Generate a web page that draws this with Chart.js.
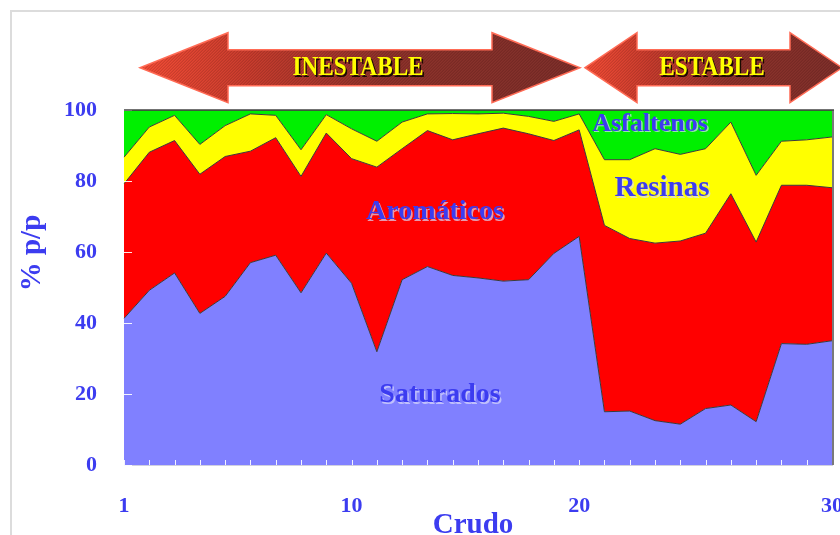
<!DOCTYPE html>
<html>
<head>
<meta charset="utf-8">
<script src="https://cdn.jsdelivr.net/npm/chart.js@4/dist/chart.umd.min.js"></script>
<style>
  html, body { margin: 0; padding: 0; background: #ffffff; }
  #wrap { width: 840px; height: 535px; position: relative; }
</style>
</head>
<body>
<div id="wrap"><canvas id="chart" width="840" height="535"></canvas></div>
<script>
// Composición SARA de 29 crudos (% p/p)
const crudeLabels = ['1', '', '', '', '', '', '', '', '', '10',
                     '', '', '', '', '', '', '', '', '20',
                     '', '', '', '', '', '', '', '', '', '30'];

const saturados  = [41.3, 49.2, 54.1, 42.7, 47.5, 57.0, 59.1, 48.5, 59.7, 51.2,
                    31.9, 52.2, 55.9, 53.4, 52.7, 51.8, 52.2, 59.6, 64.4,
                    15.0, 15.2, 12.5, 11.5, 15.9, 16.9, 12.2, 34.2, 34.0, 35.0];
const aromaticos = [37.9, 38.9, 37.3, 39.2, 39.4, 31.4, 33.1, 32.8, 33.8, 35.1,
                    52.0, 36.9, 38.3, 38.2, 40.6, 43.1, 41.1, 31.8, 30.0,
                    52.5, 48.6, 50.0, 51.6, 49.4, 59.5, 50.6, 44.6, 44.8, 43.1];
const resinas    = [7.5, 7.1, 7.1, 8.4, 8.7, 10.5, 6.3, 7.5, 5.2, 8.4,
                    7.3, 7.5, 4.7, 7.4, 5.6, 4.2, 4.9, 5.4, 4.5,
                    18.5, 22.2, 26.6, 24.4, 23.8, 20.2, 18.8, 12.4, 12.8, 14.3];
const asfaltenos = [13.3, 4.8, 1.5, 9.7, 4.4, 1.1, 1.5, 11.2, 1.3, 5.3,
                    8.8, 3.4, 1.1, 1.0, 1.1, 0.9, 1.8, 3.2, 1.1,
                    14.0, 14.0, 10.9, 12.5, 10.9, 3.4, 18.4, 8.8, 8.4, 7.6];

const yTicks = [0, 20, 40, 60, 80, 100];

const SERIF = '"Liberation Serif", "Times New Roman", serif';
const BLUE = '#3c3cf0';
const EDGE = '#3a3a3a';

// Double-headed arrow with striped red gradient
function drawArrow(ctx, x0, x1, head, cy, halfH, halfShaft, label, textX) {
  const top = cy - halfH, bot = cy + halfH;
  const st = cy - halfShaft, sb = cy + halfShaft;
  const p = new Path2D();
  p.moveTo(x0, cy);
  p.lineTo(x0 + head, top);
  p.lineTo(x0 + head, st);
  p.lineTo(x1 - head, st);
  p.lineTo(x1 - head, top);
  p.lineTo(x1, cy);
  p.lineTo(x1 - head, bot);
  p.lineTo(x1 - head, sb);
  p.lineTo(x0 + head, sb);
  p.lineTo(x0 + head, bot);
  p.closePath();
  ctx.save();
  const g = ctx.createLinearGradient(x0, 0, x1, 0);
  g.addColorStop(0, '#f54d36');
  g.addColorStop(0.25, '#c93d2e');
  g.addColorStop(0.55, '#8f332b');
  g.addColorStop(1, '#7e302b');
  ctx.fillStyle = g;
  ctx.fill(p);
  ctx.save();
  ctx.clip(p);
  ctx.strokeStyle = 'rgba(40,0,0,0.22)';
  ctx.lineWidth = 1;
  for (let x = x0 - 80; x < x1 + 80; x += 3) {
    ctx.beginPath();
    ctx.moveTo(x, bot);
    ctx.lineTo(x + (bot - top), top);
    ctx.stroke();
  }
  ctx.restore();
  ctx.strokeStyle = '#ff6b55';
  ctx.lineWidth = 1.5;
  ctx.stroke(p);
  // condensed bold caption with dark drop shadow
  ctx.translate(textX, cy);
  ctx.scale(0.86, 1);
  ctx.font = 'bold 27px ' + SERIF;
  ctx.textAlign = 'center';
  ctx.textBaseline = 'middle';
  ctx.fillStyle = '#1a0a00';
  ctx.fillText(label, 1.8, 2);
  ctx.fillStyle = '#ffff00';
  ctx.fillText(label, 0, 0);
  ctx.restore();
}

function shadowText(ctx, text, x, y, size) {
  ctx.save();
  ctx.font = 'bold ' + size + 'px ' + SERIF;
  ctx.textAlign = 'center';
  ctx.textBaseline = 'middle';
  ctx.fillStyle = 'rgba(220,220,250,0.7)';
  ctx.fillText(text, x + 1.5, y + 1.5);
  ctx.fillStyle = BLUE;
  ctx.fillText(text, x, y);
  ctx.restore();
}

const decor = {
  id: 'decor',
  beforeDraw(chart) {
    const ctx = chart.ctx;
    ctx.save();
    ctx.fillStyle = '#ffffff';
    ctx.fillRect(0, 0, chart.width, chart.height);
    ctx.strokeStyle = '#dcdcdc';
    ctx.lineWidth = 2;
    ctx.beginPath();
    ctx.moveTo(11, chart.height + 2);
    ctx.lineTo(11, 11);
    ctx.lineTo(chart.width + 2, 11);
    ctx.stroke();
    ctx.restore();
    drawArrow(ctx, 140, 580, 88, 67.7, 35, 18, 'INESTABLE', 358);
    drawArrow(ctx, 585, 842, 52, 67.7, 35, 18, 'ESTABLE', 712);
  },
  afterDatasetsDraw(chart) {
    const ctx = chart.ctx;
    const { left, right, top, bottom } = chart.chartArea;
    const xs = chart.scales.x, ys = chart.scales.y;
    ctx.save();
    // inward tick marks
    ctx.strokeStyle = 'rgba(255,255,255,0.9)';
    ctx.lineWidth = 1;
    ys.ticks.forEach((t, i) => {
      const y = Math.round(ys.getPixelForTick(i)) + 0.5;
      ctx.beginPath(); ctx.moveTo(left, y); ctx.lineTo(left + 8, y); ctx.stroke();
    });
    xs.ticks.forEach((t, i) => {
      const x = Math.round(xs.getPixelForTick(i)) + 0.5;
      ctx.beginPath(); ctx.moveTo(x, bottom); ctx.lineTo(x, bottom - 5); ctx.stroke();
    });
    // right frame
    ctx.strokeStyle = '#7a7a7a';
    ctx.lineWidth = 2;
    ctx.beginPath(); ctx.moveTo(right + 1, top); ctx.lineTo(right + 1, bottom); ctx.stroke();
    ctx.strokeStyle = '#444444';
    ctx.lineWidth = 1.5;
    ctx.beginPath(); ctx.moveTo(left, top); ctx.lineTo(right + 2, top); ctx.stroke();
    ctx.restore();

    shadowText(ctx, 'Asfaltenos', 650, 124, 26);
    shadowText(ctx, 'Resinas', 662, 189, 29);
    shadowText(ctx, 'Aromáticos', 435, 212, 28);
    shadowText(ctx, 'Saturados', 440, 395, 28);

    // axis titles
    ctx.save();
    ctx.fillStyle = BLUE;
    ctx.font = 'bold 29px ' + SERIF;
    ctx.textAlign = 'center';
    ctx.textBaseline = 'alphabetic';
    ctx.fillText('Crudo', 473, 533);
    ctx.translate(33, 253);
    ctx.rotate(-Math.PI / 2);
    ctx.textBaseline = 'middle';
    ctx.fillText('% p/p', 0, 0);
    ctx.restore();
  }
};

function series(label, data, color, fill) {
  return {
    label, data,
    backgroundColor: color,
    borderColor: EDGE,
    borderWidth: 1,
    pointRadius: 0,
    tension: 0,
    fill
  };
}

new Chart(document.getElementById('chart'), {
  type: 'line',
  data: {
    labels: crudeLabels,
    datasets: [
      series('Saturados', saturados, '#8080ff', 'origin'),
      series('Aromáticos', aromaticos, '#ff0000', '-1'),
      series('Resinas', resinas, '#ffff00', '-1'),
      series('Asfaltenos', asfaltenos, '#00f000', '-1')
    ]
  },
  options: {
    responsive: false,
    animation: false,
    layout: { padding: { top: 110, right: 8, left: 0, bottom: 0 } },
    plugins: { legend: { display: false }, tooltip: { enabled: false } },
    scales: {
      x: {
        type: 'category',
        offset: false,
        grid: { display: false, drawTicks: false },
        border: { display: true, color: '#d0d0e0', width: 1 },
        ticks: {
          autoSkip: false, maxRotation: 0, padding: 28,
          color: BLUE,
          font: { family: SERIF, size: 22, weight: 'bold' }
        },
        afterFit(s) { s.height = 70; s.paddingLeft = 0; s.paddingRight = 0; }
      },
      y: {
        stacked: true,
        min: 0, max: 100,
        afterBuildTicks(s) { s.ticks = yTicks.map(v => ({ value: v })); },
        grid: { display: false, drawTicks: false },
        border: { display: true, color: '#c8c8d0', width: 1 },
        ticks: {
          padding: 27,
          color: BLUE,
          font: { family: SERIF, size: 22, weight: 'bold' }
        },
        afterFit(s) { s.width = 124; s.paddingTop = 0; s.paddingBottom = 0; }
      }
    }
  },
  plugins: [decor]
});
</script>
</body>
</html>
